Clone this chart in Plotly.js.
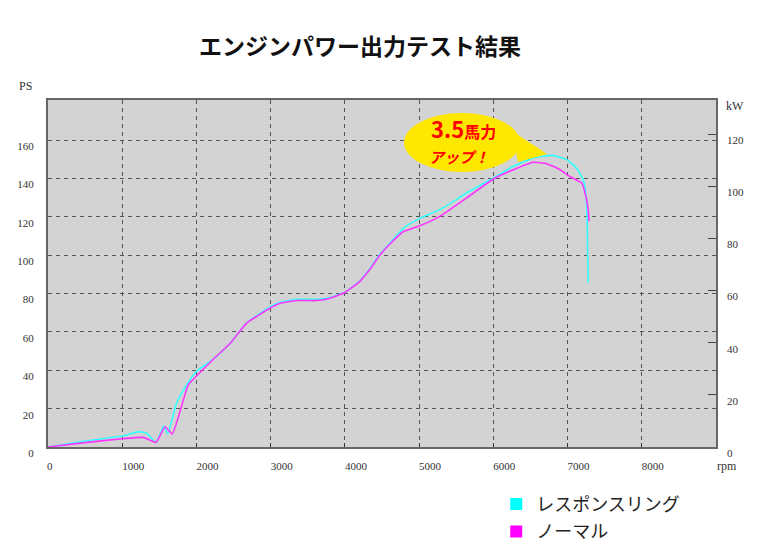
<!DOCTYPE html>
<html>
<head>
<meta charset="utf-8">
<script src="https://cdn.plot.ly/plotly-3.0.1.min.js"></script>
<style>html,body{margin:0;padding:0;background:#fff;}#chart{width:760px;height:550px;}</style>
</head>
<body>
<div id="chart"></div>
<script>
// ---- data ----
var chartTitle = "エンジンパワー出力テスト結果";
var seriesNames = ["レスポンスリング", "ノーマル"];
var seriesColors = ["#33ffff", "#ff33ff"];

var rpmResponse = [0, 500, 1000, 1217, 1330, 1455, 1560, 1612, 1733, 1868, 2000, 2228, 2452, 2677, 2990, 3126, 3350, 3620, 3800, 4000, 4200, 4340, 4470, 4610, 4790, 5010, 5280, 5640, 6000, 6270, 6540, 6790, 6990, 7120, 7210, 7250, 7265, 7270, 7280];
var psResponse  = [0, 3.1, 5.7, 8, 7.2, 2.4, 11, 6.8, 23, 32.4, 39.5, 45.8, 54, 64.8, 73, 75.5, 77, 77, 78, 80.8, 86.5, 93.3, 100.5, 106.5, 114.2, 119.4, 123.8, 132.5, 140.3, 146.4, 150.8, 152.1, 149.9, 145.5, 139.4, 130.7, 116.8, 102.9, 85.5];

var rpmNormal = [0, 500, 1000, 1284, 1455, 1576, 1675, 1823, 1890, 2000, 2228, 2452, 2677, 2990, 3126, 3350, 3620, 3800, 4000, 4200, 4340, 4470, 4610, 4790, 5010, 5280, 5640, 6000, 6270, 6540, 6720, 6900, 7030, 7190, 7257, 7280, 7289];
var psNormal  = [0, 2.3, 4.3, 5, 2.4, 10.6, 6.8, 24.5, 32.4, 37, 45.8, 54, 64.6, 72.4, 75, 76.4, 76.4, 77.6, 80.6, 86.3, 92.8, 100, 106, 112.4, 115.4, 120.3, 129.9, 139.8, 144.6, 148.5, 147.8, 144.6, 141.1, 137.7, 129, 122.9, 117.7];

var rpmTicks = [0, 1000, 2000, 3000, 4000, 5000, 6000, 7000, 8000];
var psTicks  = [0, 20, 40, 60, 80, 100, 120, 140, 160];
var kwTicks  = [0, 20, 40, 60, 80, 100, 120];
var rpmMax = 9000, psMax = 181, psToKw = 0.7355;
var calloutLines = ["3.5", "馬力", "アップ！"];

// ---- chart ----
var serif = "Liberation Serif, DejaVu Serif, serif";
var cjk = "Noto Sans CJK JP, Noto Sans, sans-serif";

var traces = [
  {x: rpmResponse, y: psResponse, mode: "lines", line: {color: seriesColors[0], width: 1.6, shape: "spline", smoothing: 0.4}, showlegend: false, hoverinfo: "skip"},
  {x: rpmNormal, y: psNormal, mode: "lines", line: {color: seriesColors[1], width: 1.6, shape: "spline", smoothing: 0.4}, showlegend: false, hoverinfo: "skip"},
  {x: [null], y: [null], mode: "markers", name: seriesNames[0], legendgroup: "a", marker: {symbol: "square", size: 12, color: "#00ffff"}},
  {x: [null], y: [null], mode: "markers", name: seriesNames[1], legendgroup: "b", marker: {symbol: "square", size: 12, color: "#ff00ff"}},
  {x: [0], y: [0], yaxis: "y2", mode: "markers", marker: {opacity: 0}, showlegend: false, hoverinfo: "skip"}
];

var axFont = {family: serif, size: 11, color: "#333"};
var lblFont = {family: serif, size: 12, color: "#333"};

function px2x(px) { return (px - 48) / 668; }
function py2y(py) { return (447 - py) / 347; }

var layout = {
  width: 760, height: 550,
  margin: {l: 48, r: 44, t: 100, b: 103, autoexpand: false},
  paper_bgcolor: "#ffffff",
  plot_bgcolor: "#d3d3d3",
  title: {text: "<b>" + chartTitle + "</b>", font: {family: cjk, size: 23, color: "#111"},
          x: 360/760, xref: "container", xanchor: "center", y: 1 - 47/550, yref: "container", yanchor: "middle"},
  xaxis: {range: [0, rpmMax], tickvals: rpmTicks.slice(1), ticktext: rpmTicks.slice(1).map(String),
          ticks: "inside", ticklen: 4, tickcolor: "#333", ticklabelshift: 11, ticklabelstandoff: 8,
          showgrid: true, gridcolor: "#555", griddash: "4px,4px", gridwidth: 1,
          showline: true, linecolor: "#666", linewidth: 2, mirror: true, zeroline: false,
          tickfont: axFont, fixedrange: true, automargin: false},
  yaxis: {range: [0, psMax], tickvals: psTicks, ticktext: psTicks.map(String),
          ticks: "", ticklabelshift: 6, ticklabelstandoff: 10,
          showgrid: true, gridcolor: "#555", griddash: "4px,4px", gridwidth: 1,
          showline: true, linecolor: "#666", linewidth: 2, mirror: true, zeroline: false,
          tickfont: axFont, fixedrange: true, automargin: false},
  yaxis2: {range: [0, psMax * psToKw], overlaying: "y", side: "right", tickvals: kwTicks, ticktext: kwTicks.map(String),
           ticks: "inside", ticklen: 8, tickcolor: "#444", tickwidth: 1, ticklabelshift: 6, ticklabelstandoff: 10,
           showgrid: false, zeroline: false, showline: false, tickfont: axFont, fixedrange: true, automargin: false},
  showlegend: true,
  legend: {x: 0.671, xanchor: "left", y: -0.112, yanchor: "top", font: {family: cjk, size: 18, color: "#222"},
           bgcolor: "rgba(0,0,0,0)", traceorder: "grouped", tracegroupgap: 1},
  shapes: [
    {type: "circle", xref: "paper", yref: "paper", x0: px2x(404), x1: px2x(520), y0: py2y(172), y1: py2y(113),
     fillcolor: "#ffe800", line: {width: 0}, layer: "above"},
    {type: "path", xref: "paper", yref: "paper",
     path: "M " + px2x(512) + " " + py2y(131) + " L " + px2x(547) + " " + py2y(154) + " L " + px2x(518) + " " + py2y(162) + " Z",
     fillcolor: "#ffe800", line: {width: 0}, layer: "above"}
  ],
  annotations: [
    {text: "PS", xref: "paper", yref: "paper", x: px2x(25), y: py2y(86), xanchor: "center", yanchor: "middle", showarrow: false, font: lblFont},
    {text: "kW", xref: "paper", yref: "paper", x: px2x(735), y: py2y(106), xanchor: "center", yanchor: "middle", showarrow: false, font: lblFont},
    {text: "rpm", xref: "paper", yref: "paper", x: px2x(727), y: py2y(466), xanchor: "center", yanchor: "middle", showarrow: false, font: lblFont},
    {text: String(rpmTicks[0]), xref: "paper", yref: "paper", x: px2x(50), y: py2y(466), xanchor: "center", yanchor: "middle", showarrow: false, font: axFont},
    {text: "<b><span style='font-size:22px'>" + calloutLines[0] + "</span>" + calloutLines[1] + "</b>", xref: "paper", yref: "paper",
     x: px2x(463), y: py2y(128), xanchor: "center", yanchor: "middle", showarrow: false, font: {family: cjk, size: 16, color: "#ff0000"}},
    {text: "<b><i>" + calloutLines[2] + "</i></b>", xref: "paper", yref: "paper",
     x: px2x(459), y: py2y(156), xanchor: "center", yanchor: "middle", showarrow: false, font: {family: cjk, size: 15, color: "#ff0000"}}
  ]
};

Plotly.newPlot("chart", traces, layout, {staticPlot: true, displayModeBar: false});
</script>
</body>
</html>
